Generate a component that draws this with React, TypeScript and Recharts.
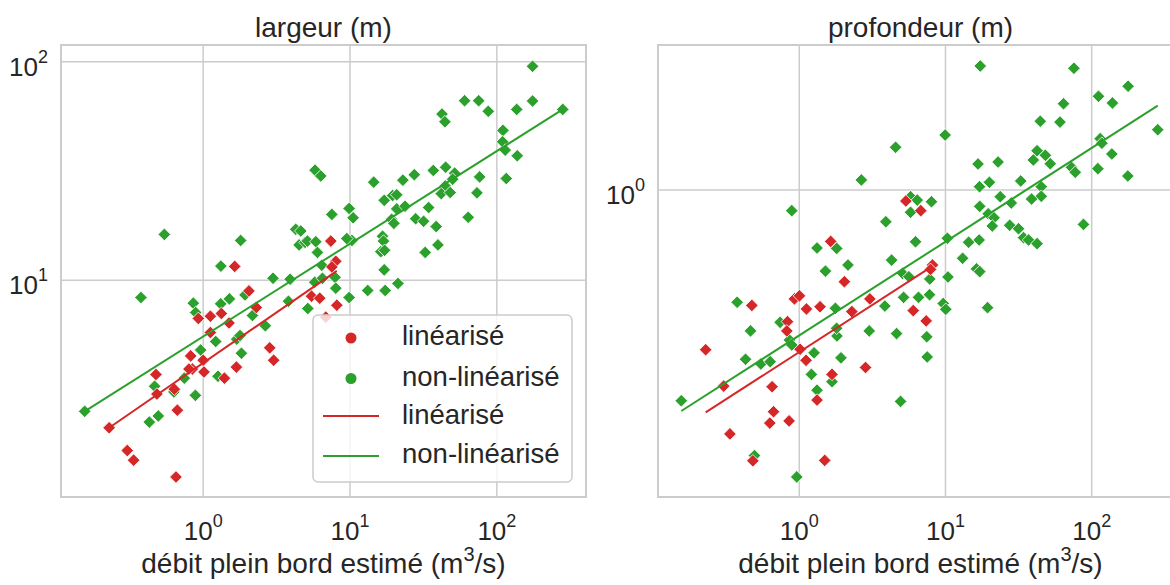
import React from 'react';
import {
  ScatterChart,
  Scatter,
  XAxis,
  YAxis,
  CartesianGrid,
  ReferenceArea,
} from 'recharts';

const RED = '#d62728';
const GREEN = '#2ca02c';
const TEXT = '#262626';
const GRID = '#cccccc';
const FONT = '"Liberation Sans", Arial, Helvetica, sans-serif';

// largeur (m) vs débit plein bord estimé (m3/s)
const qLargLin = [
  1.64, 7.4, 8.0, 7.52, 0.927, 1.12, 1.33, 1.5, 2.05, 2.3, 5.47, 6.22, 1.12, 2.84, 3.02, 0.822,
  1.0, 0.844, 0.8, 1.013, 1.684, 1.395, 0.477, 0.484, 0.636, 0.667, 0.229, 0.304, 0.336, 0.653,
  8.13, 6.84,
];
const largLin = [
  11.56, 15.1, 12.2, 11.5, 6.68, 6.84, 7.04, 6.37, 8.93, 7.5, 8.45, 8.27, 5.76, 4.9, 4.3, 4.5,
  4.3, 3.92, 3.92, 3.8, 4.0, 3.56, 3.7, 3.01, 3.17, 2.54, 2.11, 1.66, 1.5, 1.256,
  7.68, 6.77,
];
const qLargNon = [
  0.544, 1.8, 1.32, 5.78, 6.32, 4.27, 4.62, 4.5, 4.94, 5.13, 5.85, 6.0, 6.42, 175, 175, 281,
  136.5, 60.3, 75.2, 87.4, 42.3, 44.3, 110, 109.5, 114, 137.7, 115.9, 76.3, 73.2, 63.8, 44.8, 36.9,
  51.6, 50.0, 44.5, 41.8, 48.1, 27.4, 22.9, 14.5, 17.1, 19.5, 20.8, 20.8, 23.7, 34.3, 19.2, 19.9,
  28.0, 31.7, 38.6, 9.86, 10.5, 7.52, 10.3, 9.51, 16.65, 16.9, 16.2, 17.2, 32.5, 39.7, 17.1, 0.377,
  0.857, 0.889, 1.316, 1.509, 1.928, 2.165, 2.99, 3.91, 3.81, 5.16, 5.75, 6.49, 2.65, 1.217, 1.692, 1.782,
  1.822, 0.961, 1.262, 0.744, 0.467, 0.632, 0.885, 0.156, 0.43, 0.495, 7.91, 8.0, 9.86, 13.2, 17.35, 21.2,
];
const largNon = [
  16.2, 15.2, 11.6, 31.9, 30.0, 17.1, 16.8, 14.5, 14.9, 15.1, 15.0, 13.4, 11.7, 95.3, 66.1, 60.5,
  60.5, 66.3, 66.3, 59.3, 57.6, 53.1, 48.5, 43.0, 39.4, 37.1, 29.2, 29.7, 25.1, 19.4, 32.9, 31.8,
  30.9, 29.0, 27.0, 24.9, 25.2, 30.4, 28.7, 28.1, 23.2, 24.4, 24.6, 21.2, 21.8, 21.5, 19.0, 18.2,
  19.1, 18.6, 17.6, 21.3, 19.3, 20.0, 15.2, 15.5, 15.9, 15.1, 13.5, 13.7, 13.4, 14.5, 11.15, 8.33,
  7.85, 7.11, 7.79, 8.21, 8.56, 6.89, 10.2, 10.1, 8.01, 7.42, 9.79, 10.2, 6.18, 5.24, 5.37, 5.58,
  4.63, 4.79, 3.63, 3.56, 3.27, 3.08, 2.97, 2.51, 2.24, 2.39, 10.3, 9.19, 8.33, 8.97, 8.97, 9.66,
];
const fitQLargLin = [0.229, 8.13];
const fitLargLin = [2.11, 11.03];
const fitQLargNon = [0.156, 281];
const fitLargNon = [2.51, 60.5];

// profondeur (m) vs débit plein bord estimé (m3/s)
const qProfLin = [
  5.36, 6.78, 1.64, 8.15, 7.9, 2.035, 0.474, 0.927, 1.003, 1.12, 1.387, 2.29, 3.04, 6.02, 7.38, 0.831,
  0.822, 1.013, 0.229, 1.113, 2.84, 1.675, 1.323, 0.304, 0.652, 0.667, 0.629, 0.852, 0.3355, 0.4815, 1.493,
];
const profLin = [
  0.924, 0.862, 0.691, 0.583, 0.565, 0.517, 0.436, 0.457, 0.467, 0.425, 0.432, 0.417, 0.457, 0.42, 0.39, 0.388,
  0.363, 0.318, 0.317, 0.2937, 0.279, 0.2655, 0.2207, 0.244, 0.243, 0.203, 0.187, 0.19, 0.173, 0.1426, 0.143,
];
const qProfNon = [
  4.56, 2.66, 0.889, 5.77, 5.77, 3.91, 1.323, 1.803, 2.154, 4.28, 1.51, 6.24, 17.3, 75.6, 177.5, 111.3,
  138.7, 64.2, 44.5, 60.7, 283, 9.95, 114.3, 117.4, 137.4, 42.3, 48.2, 39.9, 52.1, 22.9, 16.7, 72.8,
  77.2, 110.2, 176.7, 19.97, 17.1, 32.7, 45.2, 45.2, 38.8, 23.7, 28.2, 17.15, 19.6, 21.5, 20.9, 27.5,
  31.6, 34.2, 37.0, 42.3, 87.9, 10.3, 14.4, 17.0, 13.1, 16.3, 17.15, 6.41, 8.02, 5.09, 5.62, 0.376,
  1.766, 3.85, 5.17, 0.74, 0.464, 0.857, 0.889, 0.429, 0.546, 0.632, 1.262, 1.811, 1.8, 1.929, 3.01, 4.63,
  1.211, 1.675, 1.323, 0.156, 4.93, 0.494, 0.961, 7.81, 10.4, 6.54, 7.78, 9.65, 10.05, 19.4, 7.45, 7.5,
];
const profNon = [
  1.36, 1.075, 0.862, 0.953, 0.852, 0.796, 0.659, 0.657, 0.583, 0.604, 0.558, 0.689, 2.44, 2.4, 2.11, 1.963,
  1.87, 1.86, 1.64, 1.63, 1.543, 1.485, 1.447, 1.4, 1.296, 1.327, 1.284, 1.241, 1.208, 1.223, 1.206, 1.177,
  1.136, 1.166, 1.106, 1.057, 1.024, 1.067, 1.024, 0.956, 0.937, 0.953, 0.911, 0.889, 0.843, 0.819, 0.772, 0.776,
  0.757, 0.71, 0.698, 0.68, 0.781, 0.707, 0.687, 0.698, 0.612, 0.567, 0.556, 0.93, 0.919, 0.549, 0.536, 0.446,
  0.427, 0.434, 0.462, 0.386, 0.363, 0.34, 0.328, 0.296, 0.286, 0.291, 0.31, 0.35, 0.37, 0.299, 0.363, 0.356,
  0.2655, 0.252, 0.237, 0.2196, 0.2186, 0.148, 0.127, 0.527, 0.535, 0.462, 0.471, 0.442, 0.424, 0.429, 0.348, 0.301,
];
const fitQProfLin = [0.229, 8.05];
const fitProfLin = [0.202, 0.576];
const fitQProfNon = [0.156, 283];
const fitProfNon = [0.204, 1.834];

const xTicks = [1, 10, 100];
const largTicks = [10, 100];
const profTicks = [1];

const zip = (xs: number[], ys: number[]) => xs.map((x, i) => ({ x, y: ys[i] }));

const Diamond = (props: any) => {
  const { cx, cy, fill } = props;
  if (cx == null || cy == null) return <g />;
  const r = 6.3;
  return (
    <path
      d={`M${cx},${cy - r}L${cx + r},${cy}L${cx},${cy + r}L${cx - r},${cy}Z`}
      fill={fill}
      stroke="#ffffff"
      strokeWidth={0.8}
    />
  );
};

const NoDot = () => <g />;

const exponent = (v: number) => Math.round(Math.log10(v));

const XTick = (props: any) => {
  const { x, y, payload } = props;
  return (
    <text x={x} y={y + 43} textAnchor="middle" fontFamily={FONT} fontSize={26} fill={TEXT}>
      <tspan>10</tspan>
      <tspan dy={-13} fontSize={18}>
        {exponent(payload.value)}
      </tspan>
    </text>
  );
};

const YTick = (props: any) => {
  const { x, y, payload } = props;
  return (
    <text x={x - 13} y={y + 14} textAnchor="end" fontFamily={FONT} fontSize={26} fill={TEXT}>
      <tspan>10</tspan>
      <tspan dy={-13} fontSize={18}>
        {exponent(payload.value)}
      </tspan>
    </text>
  );
};

type PanelProps = {
  left: number;
  width: number;
  yAxisWidth: number;
  title: string;
  xDomain: [number, number];
  yDomain: [number, number];
  yTicks: number[];
  lin: { x: number; y: number }[];
  non: { x: number; y: number }[];
  fitLin: { x: number; y: number }[];
  fitNon: { x: number; y: number }[];
  legend?: boolean;
};

const Legend = () => (
  <svg
    width={262}
    height={169}
    style={{ position: 'absolute', left: 312, top: 314, overflow: 'visible' }}
  >
    <rect x={1} y={1} width={259} height={167} rx={5} fill="rgba(255,255,255,0.8)" stroke={GRID} strokeWidth={1.5} />
    <circle cx={39} cy={24} r={5.5} fill={RED} />
    <circle cx={39} cy={64.5} r={5.5} fill={GREEN} />
    <line x1={11} x2={67} y1={102} y2={102} stroke={RED} strokeWidth={2} />
    <line x1={11} x2={67} y1={142} y2={142} stroke={GREEN} strokeWidth={2} />
    <g fontFamily={FONT} fontSize={27.5} fill={TEXT}>
      <text x={90} y={31}>linéarisé</text>
      <text x={90} y={72}>non-linéarisé</text>
      <text x={90} y={110}>linéarisé</text>
      <text x={90} y={149}>non-linéarisé</text>
    </g>
  </svg>
);

const Panel = ({
  left,
  width,
  yAxisWidth,
  title,
  xDomain,
  yDomain,
  yTicks,
  lin,
  non,
  fitLin,
  fitNon,
  legend,
}: PanelProps) => {
  const plotLeft = yAxisWidth;
  const plotRight = width - 1;
  const cx = (plotLeft + plotRight) / 2;
  return (
    <div style={{ position: 'absolute', left, top: 0, width, height: 585 }}>
      <ScatterChart width={width} height={585} margin={{ top: 45, right: 1, bottom: 0, left: 0 }}>
        <CartesianGrid stroke={GRID} strokeWidth={1.5} />
        <XAxis
          type="number"
          dataKey="x"
          scale="log"
          domain={xDomain}
          allowDataOverflow
          ticks={xTicks}
          tick={<XTick />}
          tickLine={false}
          axisLine={false}
          tickSize={0}
          tickMargin={0}
          height={88}
        />
        <YAxis
          type="number"
          dataKey="y"
          scale="log"
          domain={yDomain}
          allowDataOverflow
          ticks={yTicks}
          tick={<YTick />}
          tickLine={false}
          axisLine={false}
          tickSize={0}
          tickMargin={0}
          width={yAxisWidth}
        />
        <ReferenceArea
          x1={xDomain[0]}
          x2={xDomain[1]}
          y1={yDomain[0]}
          y2={yDomain[1]}
          fill="none"
          fillOpacity={0}
          stroke={GRID}
          strokeWidth={2}
          ifOverflow="extendDomain"
        />
        <Scatter data={non} fill={GREEN} shape={<Diamond />} isAnimationActive={false} />
        <Scatter data={lin} fill={RED} shape={<Diamond />} isAnimationActive={false} />
        <Scatter
          data={fitLin}
          fill={RED}
          line={{ stroke: RED, strokeWidth: 2 }}
          shape={<NoDot />}
          isAnimationActive={false}
        />
        <Scatter
          data={fitNon}
          fill={GREEN}
          line={{ stroke: GREEN, strokeWidth: 2 }}
          shape={<NoDot />}
          isAnimationActive={false}
        />
      </ScatterChart>
      <svg
        width={width}
        height={585}
        style={{ position: 'absolute', left: 0, top: 0, pointerEvents: 'none' }}
      >
        <text x={cx} y={37} textAnchor="middle" fontFamily={FONT} fontSize={28} fill={TEXT}>
          {title}
        </text>
        <text x={cx} y={573} textAnchor="middle" fontFamily={FONT} fontSize={28} fill={TEXT}>
          débit plein bord estimé (m
          <tspan dy={-12} fontSize={20}>
            3
          </tspan>
          <tspan dy={12}>/s)</tspan>
        </text>
      </svg>
      {legend && <Legend />}
    </div>
  );
};

export default function App() {
  return (
    <div
      style={{
        position: 'absolute',
        left: 0,
        top: 0,
        width: 1170,
        height: 585,
        overflow: 'hidden',
        background: '#ffffff',
      }}
    >
      <Panel
        left={0}
        width={587}
        yAxisWidth={61}
        title="largeur (m)"
        xDomain={[0.1076, 404.6]}
        yDomain={[1.017, 119.3]}
        yTicks={largTicks}
        lin={zip(qLargLin, largLin)}
        non={zip(qLargNon, largNon)}
        fitLin={zip(fitQLargLin, fitLargLin)}
        fitNon={zip(fitQLargNon, fitLargNon)}
        legend
      />
      <Panel
        left={590}
        width={594}
        yAxisWidth={68}
        title="profondeur (m)"
        xDomain={[0.1081, 421.3]}
        yDomain={[0.1099, 2.838]}
        yTicks={profTicks}
        lin={zip(qProfLin, profLin)}
        non={zip(qProfNon, profNon)}
        fitLin={zip(fitQProfLin, fitProfLin)}
        fitNon={zip(fitQProfNon, fitProfNon)}
      />
    </div>
  );
}
